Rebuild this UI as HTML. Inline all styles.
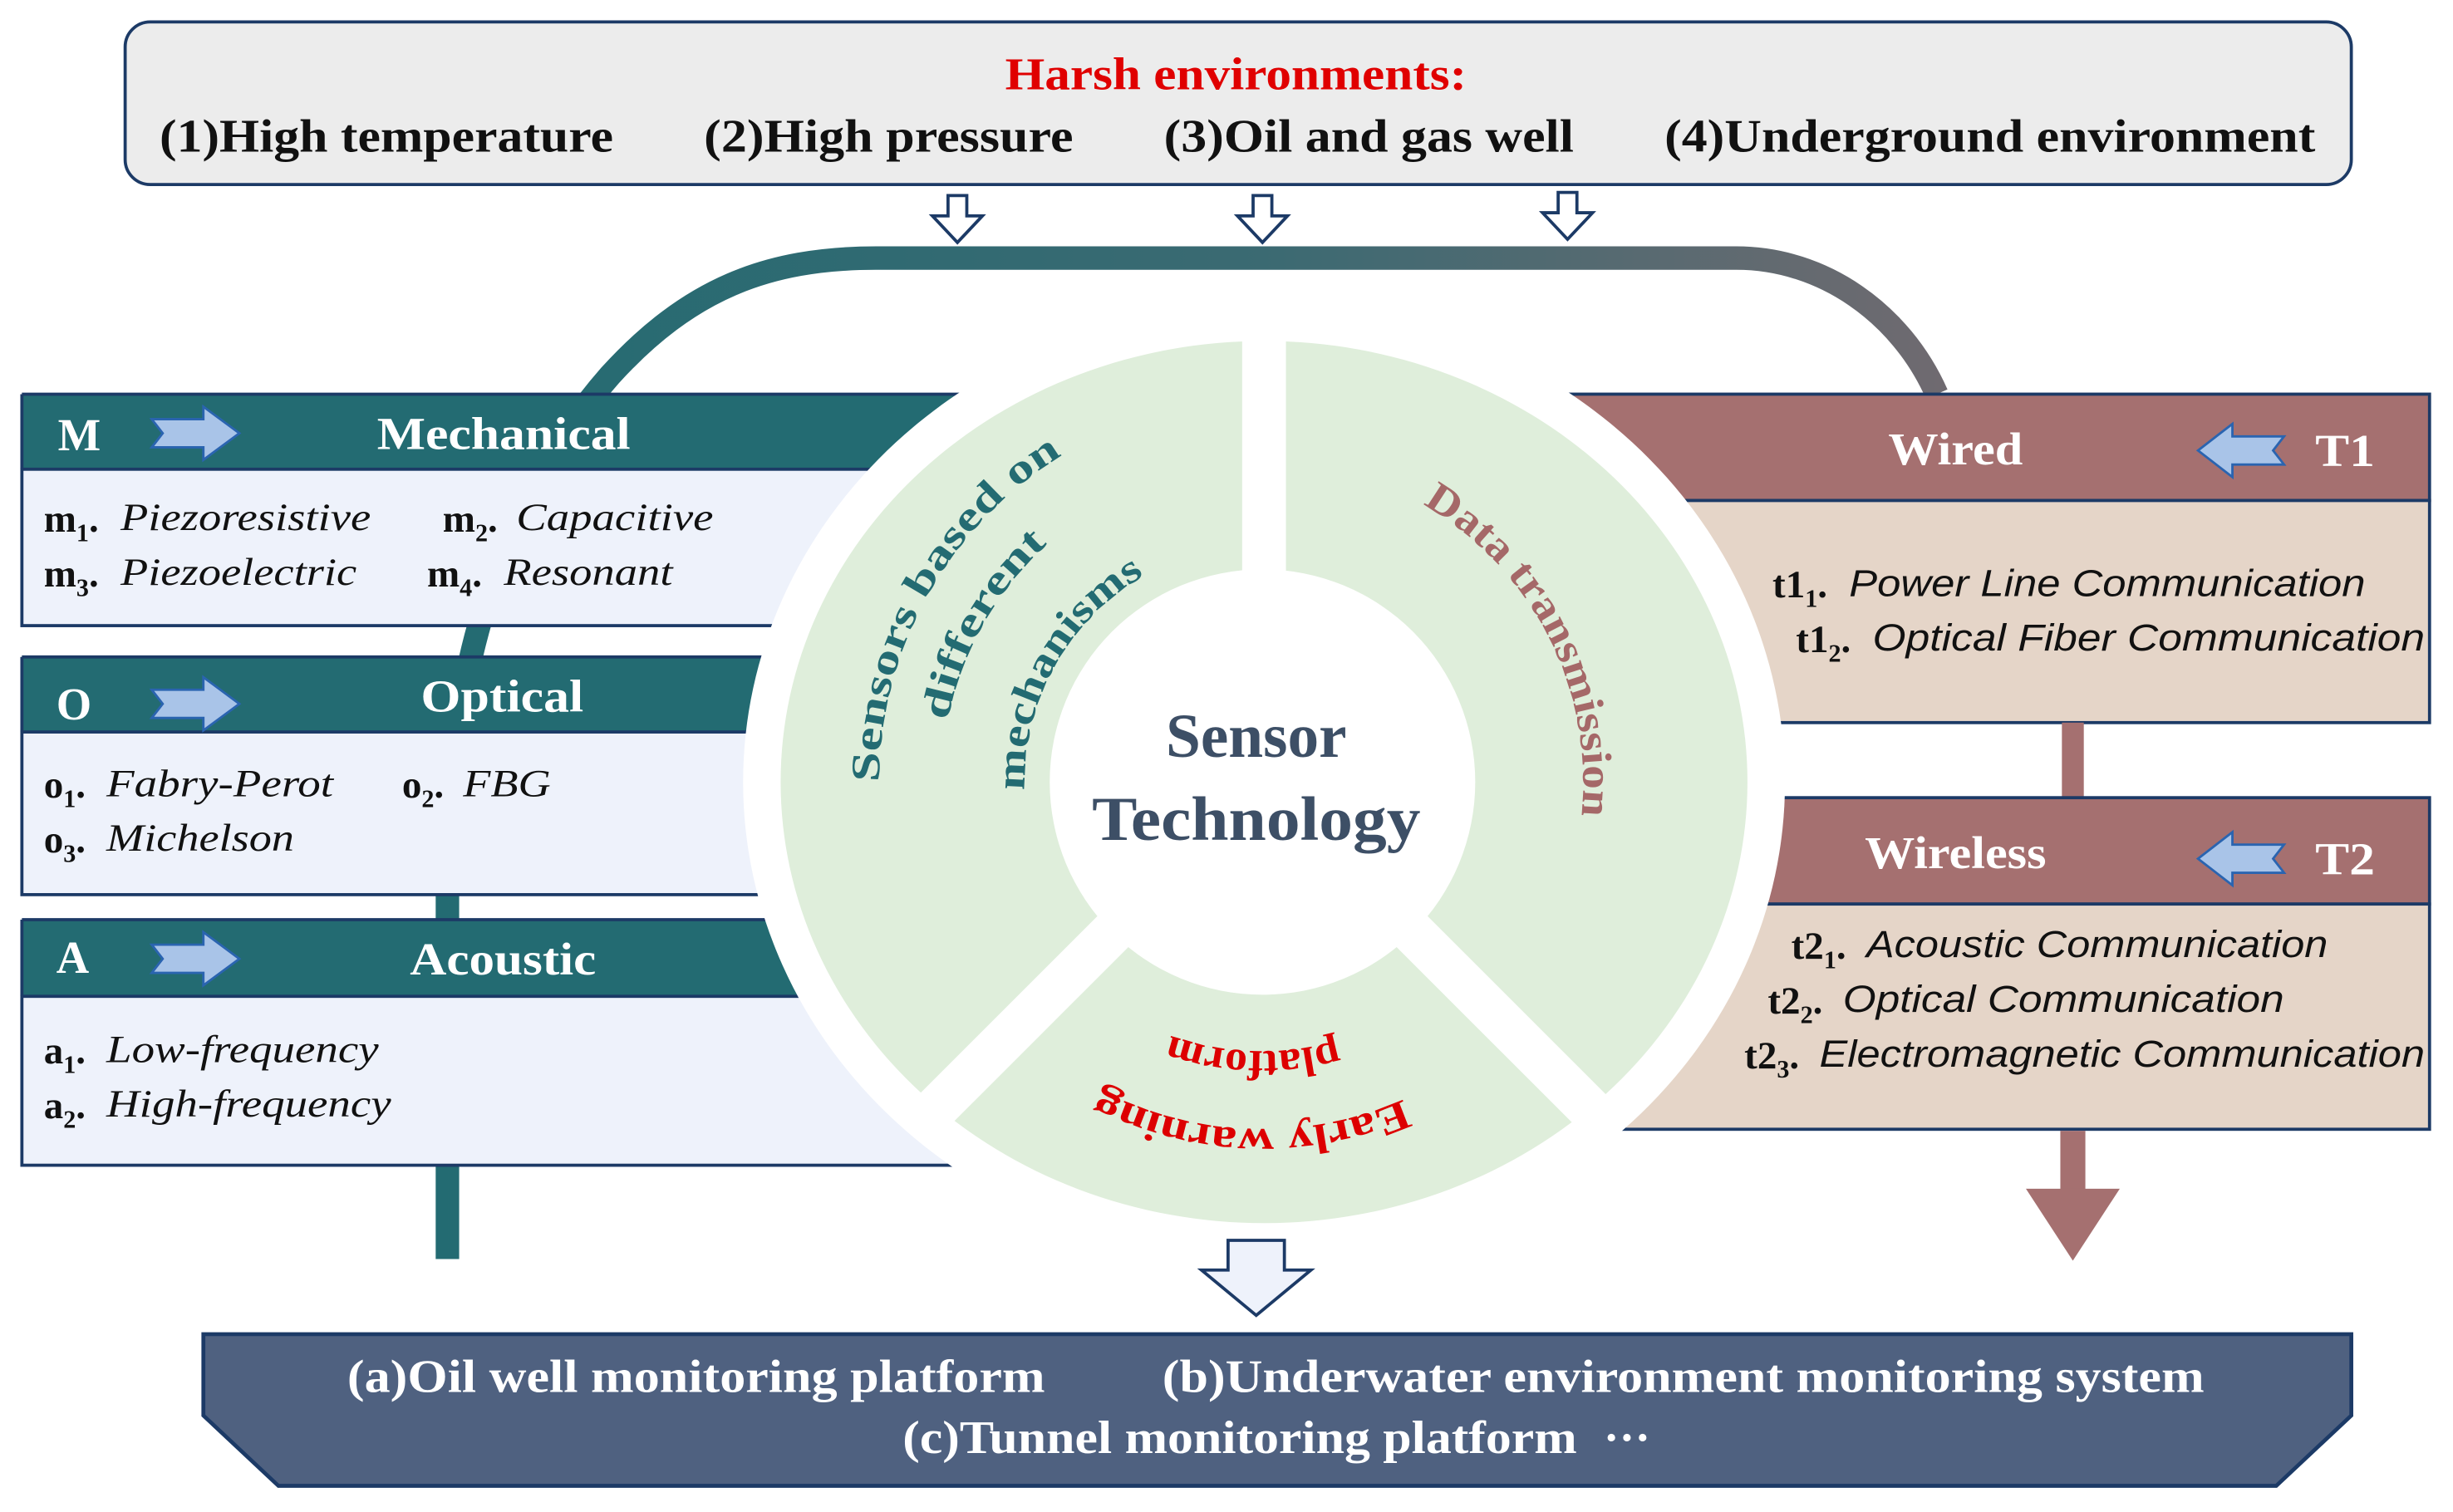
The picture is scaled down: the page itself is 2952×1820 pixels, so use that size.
<!DOCTYPE html>
<html><head><meta charset="utf-8"><style>html,body{margin:0;padding:0;background:#fff}svg{display:block}</style></head>
<body>
<svg width="2952" height="1820" viewBox="0 0 1568 966.7" xmlns="http://www.w3.org/2000/svg" font-family="'Liberation Serif', serif">
<defs>
<linearGradient id="bg" x1="280" y1="0" x2="1240" y2="0" gradientUnits="userSpaceOnUse">
<stop offset="0" stop-color="#236b72"/><stop offset="0.55" stop-color="#3b6a72"/><stop offset="1" stop-color="#6f6a70"/></linearGradient>
<path id="p1" d="M562 500 A245 245 0 0 1 684.5 287.8"/>
<path id="p2" d="M605.8 460.9 A205 205 0 0 1 672.5 345.3"/>
<path id="p3" d="M655.1 505.3 A152 152 0 0 1 731 368.4"/>
<path id="p4" d="M909.5 322.5 A205 205 0 0 1 1010.9 521.4"/>
<path id="p5" d="M897 702.8 A222 222 0 0 1 702.8 696"/>
<path id="p6" d="M854.4 665.3 A172 172 0 0 1 750.7 662.7"/>
</defs>

<!-- top box -->
<rect x="80" y="14" width="1423" height="104" rx="16" fill="#ececec" stroke="#1c3a66" stroke-width="2"/>
<text x="790" y="57" text-anchor="middle" font-size="29" font-weight="bold" fill="#e00000" textLength="295" lengthAdjust="spacingAndGlyphs">Harsh environments:</text>
<g font-size="30" font-weight="bold" fill="#111">
<text x="102" y="97" textLength="290" lengthAdjust="spacingAndGlyphs">(1)High temperature</text>
<text x="450" y="97" textLength="236" lengthAdjust="spacingAndGlyphs">(2)High pressure</text>
<text x="744" y="97" textLength="262" lengthAdjust="spacingAndGlyphs">(3)Oil and gas well</text>
<text x="1064" y="97" textLength="416" lengthAdjust="spacingAndGlyphs">(4)Underground environment</text>
</g>
<g fill="#fff" stroke="#1c3a66" stroke-width="2">
<polygon points="606,125 618,125 618,138 628,138 612,155 596,138 606,138"/>
<polygon points="801,125 813,125 813,138 823,138 807,155 791,138 801,138"/>
<polygon points="996,123 1008,123 1008,136 1018,136 1002,153 986,136 996,136"/>
</g>

<!-- band -->
<path d="M286 805 L286 560 C286 430 320 320 390 240 C440 185 490 165 560 165 L1110 165 C1165 165 1215 200 1238 252" fill="none" stroke="url(#bg)" stroke-width="15"/>

<!-- left boxes -->
<g stroke="#1c3a66" stroke-width="2">
<rect x="14" y="252" width="700" height="48" fill="#236b72" stroke="none"/>
<line x1="14" y1="252" x2="700" y2="252"/>
<rect x="14" y="300" width="700" height="100" fill="#eef2fb"/>
<rect x="14" y="420" width="700" height="48" fill="#236b72" stroke="none"/>
<line x1="14" y1="420" x2="700" y2="420"/>
<rect x="14" y="468" width="700" height="104" fill="#eef2fb"/>
<rect x="14" y="588" width="700" height="49" fill="#236b72" stroke="none"/>
<line x1="14" y1="588" x2="700" y2="588"/>
<rect x="14" y="637" width="700" height="108" fill="#eef2fb"/>
<line x1="14" y1="252" x2="14" y2="300"/><line x1="14" y1="420" x2="14" y2="468"/><line x1="14" y1="588" x2="14" y2="637"/>
</g>
<!-- right boxes -->
<g stroke="#1c3a66" stroke-width="2">
<rect x="900" y="252" width="653" height="68" fill="#a57070"/>
<rect x="900" y="320" width="653" height="142" fill="#e5d5c8"/>
<rect x="1318" y="462" width="14" height="48" fill="#a57070" stroke="none"/>
<rect x="900" y="510" width="653" height="68" fill="#a57070"/>
<rect x="900" y="578" width="653" height="144" fill="#e5d5c8"/>
</g>
<rect x="1317" y="723" width="16" height="40" fill="#a57070"/>
<polygon points="1295,760 1355,760 1325,806" fill="#a57070"/>

<!-- white halo + ring -->
<ellipse cx="808" cy="500" rx="333" ry="307" fill="#fff"/>
<ellipse cx="808" cy="500" rx="309" ry="282" fill="#dfeedb"/>
<circle cx="807" cy="500" r="136" fill="#fff"/>
<g stroke="#fff" stroke-width="28">
<line x1="808" y1="500" x2="808" y2="212"/>
<line x1="807" y1="500" x2="592" y2="715"/>
<line x1="807" y1="500" x2="1022" y2="715"/>
</g>
<circle cx="807" cy="500" r="130" fill="#fff"/>

<text x="803" y="484" text-anchor="middle" font-size="40" font-weight="bold" fill="#3d4f66">Sensor</text>
<text x="803" y="537" text-anchor="middle" font-size="40" font-weight="bold" fill="#3d4f66" textLength="210" lengthAdjust="spacingAndGlyphs">Technology</text>

<g font-size="26" font-weight="bold" fill="#236b72">
<text><textPath href="#p1" textLength="250" lengthAdjust="spacingAndGlyphs">Sensors based on</textPath></text>
<text><textPath href="#p2" textLength="132" lengthAdjust="spacingAndGlyphs">different</textPath></text>
<text><textPath href="#p3" textLength="165" lengthAdjust="spacingAndGlyphs">mechanisms</textPath></text>
</g>
<text font-size="27" font-weight="bold" fill="#a56868"><textPath href="#p4" textLength="236" lengthAdjust="spacingAndGlyphs">Data transmission</textPath></text>
<g font-size="27" font-weight="bold" fill="#dd0000">
<text><textPath href="#p5" textLength="200" lengthAdjust="spacingAndGlyphs">Early warning</textPath></text>
<text><textPath href="#p6" textLength="108" lengthAdjust="spacingAndGlyphs">platform</textPath></text>
</g>

<g fill="#a9c4e8" stroke="#2a64b0" stroke-width="1.5">
<polygon points="97,268 130,268 130,260 153,277 130,294 130,286 97,286 104,277"/>
<polygon points="97,441 130,441 130,433 153,450 130,467 130,459 97,459 104,450"/>
<polygon points="97,604 130,604 130,596 153,613 130,630 130,622 97,622 104,613"/>
<polygon points="1460,279 1427,279 1427,271 1405,288 1427,305 1427,297 1460,297 1453,288"/>
<polygon points="1460,540 1427,540 1427,532 1405,549 1427,566 1427,558 1460,558 1453,549"/>
</g>
<g font-size="29" font-weight="bold" fill="#fff">
<text x="37" y="288">M</text>
<text x="241" y="287" textLength="162" lengthAdjust="spacingAndGlyphs">Mechanical</text>
<text x="36" y="460">O</text>
<text x="269" y="455" textLength="104" lengthAdjust="spacingAndGlyphs">Optical</text>
<text x="36" y="622">A</text>
<text x="262" y="623" textLength="119" lengthAdjust="spacingAndGlyphs">Acoustic</text>
<text x="1250" y="297" text-anchor="middle" textLength="86" lengthAdjust="spacingAndGlyphs">Wired</text>
<text x="1480" y="298" textLength="38" lengthAdjust="spacingAndGlyphs">T1</text>
<text x="1250" y="555" text-anchor="middle" textLength="116" lengthAdjust="spacingAndGlyphs">Wireless</text>
<text x="1480" y="559" textLength="38" lengthAdjust="spacingAndGlyphs">T2</text>
</g>

<g font-size="25" fill="#111">
<g font-weight="bold">
<text x="28" y="340">m<tspan font-size="16" dy="6">1</tspan><tspan dy="-6">.</tspan></text>
<text x="283" y="340">m<tspan font-size="16" dy="6">2</tspan><tspan dy="-6">.</tspan></text>
<text x="28" y="375">m<tspan font-size="16" dy="6">3</tspan><tspan dy="-6">.</tspan></text>
<text x="273" y="375">m<tspan font-size="16" dy="6">4</tspan><tspan dy="-6">.</tspan></text>
<text x="28" y="510">o<tspan font-size="16" dy="6">1</tspan><tspan dy="-6">.</tspan></text>
<text x="257" y="510">o<tspan font-size="16" dy="6">2</tspan><tspan dy="-6">.</tspan></text>
<text x="28" y="545">o<tspan font-size="16" dy="6">3</tspan><tspan dy="-6">.</tspan></text>
<text x="28" y="680">a<tspan font-size="16" dy="6">1</tspan><tspan dy="-6">.</tspan></text>
<text x="28" y="715">a<tspan font-size="16" dy="6">2</tspan><tspan dy="-6">.</tspan></text>
</g>
<g font-style="italic">
<text x="77" y="339" textLength="160" lengthAdjust="spacingAndGlyphs">Piezoresistive</text>
<text x="330" y="339" textLength="126" lengthAdjust="spacingAndGlyphs">Capacitive</text>
<text x="77" y="374" textLength="151" lengthAdjust="spacingAndGlyphs">Piezoelectric</text>
<text x="322" y="374" textLength="108" lengthAdjust="spacingAndGlyphs">Resonant</text>
<text x="68" y="509" textLength="145" lengthAdjust="spacingAndGlyphs">Fabry-Perot</text>
<text x="296" y="509" textLength="56" lengthAdjust="spacingAndGlyphs">FBG</text>
<text x="68" y="544" textLength="120" lengthAdjust="spacingAndGlyphs">Michelson</text>
<text x="68" y="679" textLength="174" lengthAdjust="spacingAndGlyphs">Low-frequency</text>
<text x="68" y="714" textLength="182" lengthAdjust="spacingAndGlyphs">High-frequency</text>
</g>
</g>

<g font-size="25" fill="#111">
<g font-weight="bold">
<text x="1133" y="382">t1<tspan font-size="16" dy="6">1</tspan><tspan dy="-6">.</tspan></text>
<text x="1148" y="417">t1<tspan font-size="16" dy="6">2</tspan><tspan dy="-6">.</tspan></text>
<text x="1145" y="613">t2<tspan font-size="16" dy="6">1</tspan><tspan dy="-6">.</tspan></text>
<text x="1130" y="648">t2<tspan font-size="16" dy="6">2</tspan><tspan dy="-6">.</tspan></text>
<text x="1115" y="683">t2<tspan font-size="16" dy="6">3</tspan><tspan dy="-6">.</tspan></text>
</g>
<g font-style="italic" font-family="'Liberation Sans', sans-serif" font-size="24">
<text x="1182" y="381" textLength="330" lengthAdjust="spacingAndGlyphs">Power Line Communication</text>
<text x="1197" y="416" textLength="353" lengthAdjust="spacingAndGlyphs">Optical Fiber Communication</text>
<text x="1193" y="612" textLength="295" lengthAdjust="spacingAndGlyphs">Acoustic Communication</text>
<text x="1178" y="647" textLength="282" lengthAdjust="spacingAndGlyphs">Optical Communication</text>
<text x="1163" y="682" textLength="387" lengthAdjust="spacingAndGlyphs">Electromagnetic Communication</text>
</g>
</g>

<polygon points="785,793 821,793 821,812 838,812 803,841 768,812 785,812" fill="#eef2fb" stroke="#1c3a66" stroke-width="2"/>

<polygon points="130,853 1503,853 1503,905 1455,950 178,950 130,905" fill="#4f6180" stroke="#1c3a66" stroke-width="2.5"/>
<g font-size="30" font-weight="bold" fill="#fff">
<text x="222" y="890" textLength="446" lengthAdjust="spacingAndGlyphs">(a)Oil well monitoring platform</text>
<text x="743" y="890" textLength="666" lengthAdjust="spacingAndGlyphs">(b)Underwater environment monitoring system</text>
<text x="577" y="929" textLength="431" lengthAdjust="spacingAndGlyphs">(c)Tunnel monitoring platform</text>
<text x="1025" y="929">···</text>
</g>
</svg>
</body></html>
